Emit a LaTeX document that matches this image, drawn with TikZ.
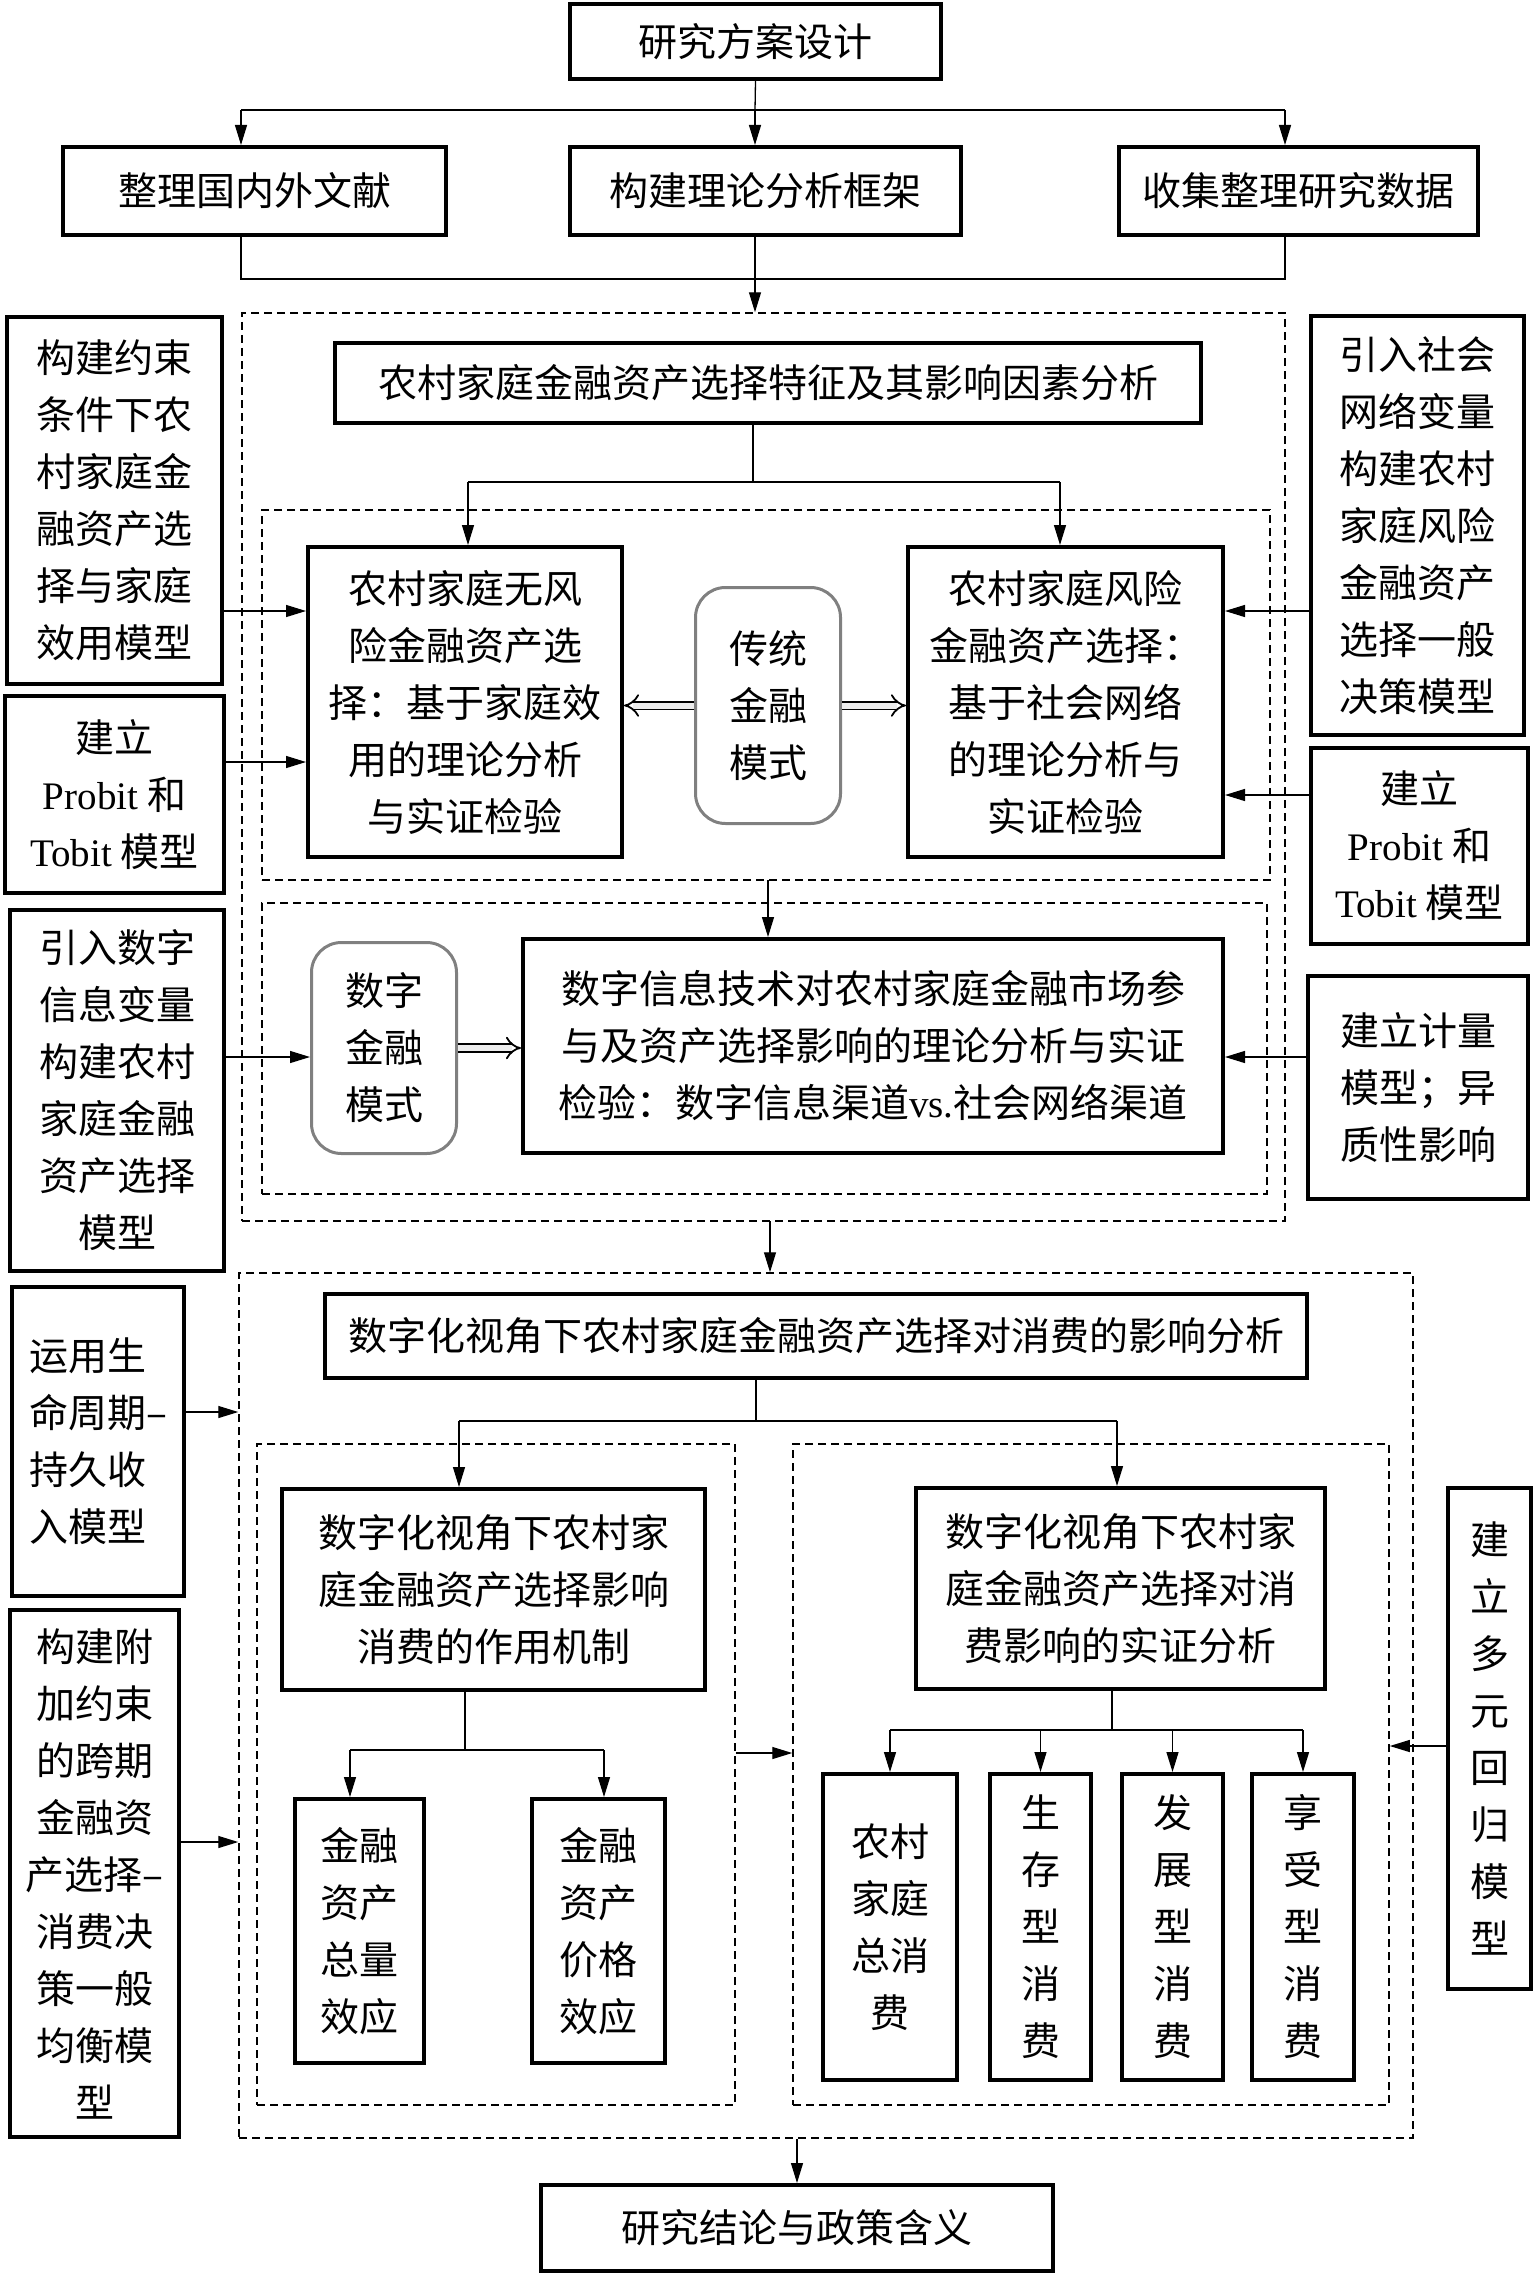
\documentclass[tikz,border=0pt]{standalone}
\usepackage{fontspec}
\setmainfont{Noto Sans CJK SC}
\newfontfamily\lat{Liberation Serif}
\usetikzlibrary{arrows.meta}
\begin{document}
\begin{tikzpicture}
    [
        x=1pt, y=-1pt,
        box/.style={rectangle, draw, line width=4pt, inner sep=0pt, align=center, font=\fontsize{39}{57}\selectfont},
        modebox/.style={rectangle, draw=gray, line width=3pt, rounded corners=30pt, inner sep=0pt, align=center, font=\fontsize{39}{57}\selectfont},
        dashframe/.style={rectangle, draw, dash pattern=on 8pt off 5pt, line width=1.5pt, inner sep=0pt},
        conn/.style={line width=1.3pt},
        arr/.style={line width=1.3pt, -{Triangle[length=20pt,width=12pt]}},
        dbl/.style={double=gray!15, double distance=6pt, line width=1.8pt, -{Implies}},
    ]
    \useasboundingbox (0,0) rectangle (1536,2277);
    \node (plan) at (755.5,41.5) [box, minimum width=371, minimum height=75] {研究方案设计};
    \node (lit) at (254.5,191) [box, minimum width=383, minimum height=88] {整理国内外文献};
    \node (theory) at (765.5,191) [box, minimum width=391, minimum height=88] {构建理论分析框架};
    \node (data) at (1298.5,191) [box, minimum width=359, minimum height=88] {收集整理研究数据};

    \node (A) at (763.5,767) [dashframe, minimum width=1043, minimum height=908] {};
    \node (B) at (766,695) [dashframe, minimum width=1008, minimum height=370] {};
    \node (C) at (764.5,1048.5) [dashframe, minimum width=1005, minimum height=291] {};
    \node (D) at (826,1705.5) [dashframe, minimum width=1174, minimum height=865] {};
    \node (E) at (496,1774.5) [dashframe, minimum width=478, minimum height=661] {};
    \node (F) at (1091,1774.5) [dashframe, minimum width=596, minimum height=661] {};

    \node (feat) at (768,383) [box, minimum width=866, minimum height=80] {农村家庭金融资产选择特征及其影响因素分析};
    \node (riskfree) at (465,702) [box, minimum width=314, minimum height=310] {农村家庭无风\\险金融资产选\\择：基于家庭效\\用的理论分析\\与实证检验};
    \node (risky) at (1065.5,702) [box, minimum width=315, minimum height=310] {农村家庭风险\\金融资产选择：\\基于社会网络\\的理论分析与\\实证检验};
    \node (trad) at (768,705.5) [modebox, minimum width=145, minimum height=236] {传统\\金融\\模式};
    \node (L1) at (114.5,500.5) [box, minimum width=215, minimum height=367] {构建约束\\条件下农\\村家庭金\\融资产选\\择与家庭\\效用模型};
    \node (L2) at (114.5,794.5) [box, minimum width=219, minimum height=197] {建立\\{\lat Probit} 和\\{\lat Tobit} 模型};
    \node (R1) at (1417.5,525.5) [box, minimum width=213, minimum height=419] {引入社会\\网络变量\\构建农村\\家庭风险\\金融资产\\选择一般\\决策模型};
    \node (R2) at (1419.5,846) [box, minimum width=217, minimum height=196] {建立\\{\lat Probit} 和\\{\lat Tobit} 模型};

    \node (dig) at (384,1048) [modebox, minimum width=145, minimum height=211] {数字\\金融\\模式};
    \node (info) at (873,1046) [box, minimum width=700, minimum height=214] {数字信息技术对农村家庭金融市场参\\与及资产选择影响的理论分析与实证\\检验：数字信息渠道{\lat vs.}社会网络渠道};
    \node (L3) at (117,1090.5) [box, minimum width=214, minimum height=361] {引入数字\\信息变量\\构建农村\\家庭金融\\资产选择\\模型};
    \node (R3) at (1418,1087.5) [box, minimum width=220, minimum height=223] {建立计量\\模型；异\\质性影响};

    \node (cons) at (816,1336) [box, minimum width=982, minimum height=84] {数字化视角下农村家庭金融资产选择对消费的影响分析};
    \node (mech) at (493.5,1589.5) [box, minimum width=423, minimum height=201] {数字化视角下农村家\\庭金融资产选择影响\\消费的作用机制};
    \node (emp) at (1120.5,1588.5) [box, minimum width=409, minimum height=201] {数字化视角下农村家\\庭金融资产选择对消\\费影响的实证分析};
    \node (tot) at (359.5,1931) [box, minimum width=129, minimum height=264] {金融\\资产\\总量\\效应};
    \node (pri) at (598.5,1931) [box, minimum width=133, minimum height=264] {金融\\资产\\价格\\效应};
    \node (c1) at (890,1927) [box, minimum width=134, minimum height=306] {农村\\家庭\\总消\\费};
    \node (c2) at (1040.5,1927) [box, minimum width=101, minimum height=306] {生\\存\\型\\消\\费};
    \node (c3) at (1172.5,1927) [box, minimum width=101, minimum height=306] {发\\展\\型\\消\\费};
    \node (c4) at (1303,1927) [box, minimum width=102, minimum height=306] {享\\受\\型\\消\\费};
    \node (L4) at (98,1441.5) [box, align=left, minimum width=172, minimum height=309] {运用生\\命周期–\\持久收\\入模型};
    \node (L5) at (94.5,1873.5) [box, minimum width=169, minimum height=527] {构建附\\加约束\\的跨期\\金融资\\产选择–\\消费决\\策一般\\均衡模\\型};
    \node (R4) at (1489.5,1738.5) [box, minimum width=83, minimum height=501] {建\\立\\多\\元\\回\\归\\模\\型};
    \node (final) at (797,2228) [box, minimum width=512, minimum height=86] {研究结论与政策含义};

    \coordinate (s0) at (755,110);
    \coordinate (s1) at (241,110);
    \coordinate (s3) at (1285,110);
    \coordinate (m1) at (241,279);
    \coordinate (m3) at (1285,279);
    \draw [conn] (plan.south) -- (s0);
    \draw [conn] (s1) -- (s3);
    \draw [arr] (s1) -- (s1 |- lit.north);
    \draw [arr] (s0) -- (s0 |- theory.north);
    \draw [arr] (s3) -- (s3 |- data.north);
    \draw [conn] (m1 |- lit.south) -- (m1) -- (m3) -- (m3 |- data.south);
    \draw [arr] (s0 |- theory.south) -- (s0 |- A.north);

    \coordinate (f0) at (753,482);
    \coordinate (f1) at (468,482);
    \coordinate (f2) at (1060,482);
    \draw [conn] (f0 |- feat.south) -- (f0);
    \draw [conn] (f1) -- (f2);
    \draw [arr] (f1) -- (f1 |- riskfree.north);
    \draw [arr] (f2) -- (f2 |- risky.north);
    \draw [dbl] (trad.west) -- (riskfree.east |- trad.west);
    \draw [dbl] (trad.east) -- (risky.west |- trad.east);

    \coordinate (y1) at (0,611);
    \coordinate (y2) at (0,762);
    \coordinate (y3) at (0,795);
    \coordinate (y4) at (0,1057);
    \draw [arr] (L1.east |- y1) -- (riskfree.west |- y1);
    \draw [arr] (L2.east |- y2) -- (riskfree.west |- y2);
    \draw [arr] (R1.west |- y1) -- (risky.east |- y1);
    \draw [arr] (R2.west |- y3) -- (risky.east |- y3);

    \coordinate (d0) at (768,880);
    \draw [arr] (d0) -- (d0 |- info.north);
    \draw [dbl] (dig.east) -- (info.west |- dig.east);
    \draw [arr] (L3.east |- y4) -- (dig.west |- y4);
    \draw [arr] (R3.west |- y4) -- (info.east |- y4);
    \coordinate (d1) at (770,1221);
    \draw [arr] (d1) -- (d1 |- D.north);

    \coordinate (g0) at (756,1421);
    \coordinate (g1) at (459,1421);
    \coordinate (g2) at (1117,1421);
    \draw [conn] (g0 |- cons.south) -- (g0);
    \draw [conn] (g1) -- (g2);
    \draw [arr] (g1) -- (g1 |- mech.north);
    \draw [arr] (g2) -- (g2 |- emp.north);

    \coordinate (h0) at (465,1750);
    \coordinate (h1) at (350,1750);
    \coordinate (h2) at (604,1750);
    \draw [conn] (h0 |- mech.south) -- (h0);
    \draw [conn] (h1) -- (h2);
    \draw [arr] (h1) -- (h1 |- tot.north);
    \draw [arr] (h2) -- (h2 |- pri.north);

    \coordinate (k0) at (1112,1730);
    \coordinate (k1) at (890,1730);
    \coordinate (k2) at (1303,1730);
    \draw [conn] (k0 |- emp.south) -- (k0);
    \draw [conn] (k1) -- (k2);
    \draw [arr] (c1.north |- k0) -- (c1.north);
    \draw [arr] (c2.north |- k0) -- (c2.north);
    \draw [arr] (c3.north |- k0) -- (c3.north);
    \draw [arr] (c4.north |- k0) -- (c4.north);

    \coordinate (y5) at (0,1753);
    \coordinate (y6) at (0,1412);
    \coordinate (y7) at (0,1842);
    \coordinate (y8) at (0,1746);
    \draw [arr] (E.east |- y5) -- (F.west |- y5);
    \draw [arr] (L4.east |- y6) -- (D.west |- y6);
    \draw [arr] (L5.east |- y7) -- (D.west |- y7);
    \draw [arr] (R4.west |- y8) -- (F.east |- y8);
    \draw [arr] (final.north |- D.south) -- (final.north);
\end{tikzpicture}
\end{document}
